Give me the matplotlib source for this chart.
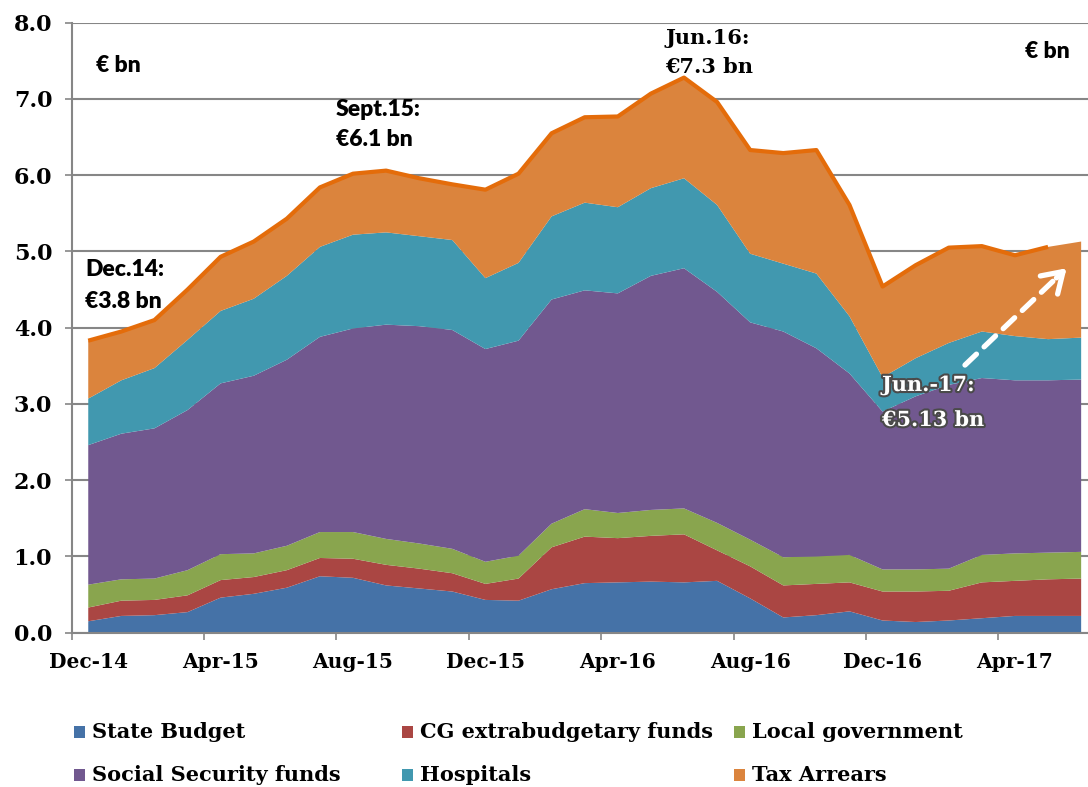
import numpy as np
import matplotlib.pyplot as plt
import matplotlib.patheffects as pe
from matplotlib.patches import Rectangle

# monthly government arrears, EUR bn
months = ['Dec-14', 'Jan-15', 'Feb-15', 'Mar-15', 'Apr-15', 'May-15', 'Jun-15', 'Jul-15',
          'Aug-15', 'Sep-15', 'Oct-15', 'Nov-15', 'Dec-15', 'Jan-16', 'Feb-16', 'Mar-16',
          'Apr-16', 'May-16', 'Jun-16', 'Jul-16', 'Aug-16', 'Sep-16', 'Oct-16', 'Nov-16',
          'Dec-16', 'Jan-17', 'Feb-17', 'Mar-17', 'Apr-17', 'May-17', 'Jun-17']

state_budget = [0.15, 0.22, 0.23, 0.27, 0.46, 0.51, 0.59, 0.74, 0.72, 0.62, 0.58, 0.54, 0.43, 0.42, 0.57, 0.65,
                0.66, 0.67, 0.66, 0.68, 0.45, 0.20, 0.23, 0.28, 0.16, 0.14, 0.16, 0.19, 0.22, 0.22, 0.22]
cg_funds = [0.18, 0.20, 0.20, 0.22, 0.23, 0.22, 0.23, 0.24, 0.25, 0.27, 0.26, 0.24, 0.21, 0.29, 0.55, 0.61,
            0.58, 0.60, 0.63, 0.40, 0.42, 0.42, 0.41, 0.38, 0.38, 0.40, 0.39, 0.47, 0.46, 0.48, 0.49]
local_gov = [0.30, 0.28, 0.28, 0.33, 0.34, 0.31, 0.32, 0.34, 0.35, 0.34, 0.33, 0.32, 0.29, 0.30, 0.31, 0.36,
             0.33, 0.34, 0.34, 0.36, 0.35, 0.37, 0.36, 0.36, 0.29, 0.29, 0.29, 0.36, 0.36, 0.35, 0.35]
social_security = [1.83, 1.91, 1.97, 2.10, 2.24, 2.33, 2.44, 2.56, 2.67, 2.81, 2.85, 2.87, 2.79, 2.82, 2.94, 2.87,
                   2.88, 3.07, 3.15, 3.03, 2.85, 2.96, 2.73, 2.38, 2.07, 2.27, 2.41, 2.32, 2.27, 2.26, 2.26]
hospitals = [0.61, 0.70, 0.79, 0.92, 0.95, 1.01, 1.10, 1.18, 1.23, 1.21, 1.18, 1.18, 0.93, 1.02, 1.09, 1.15,
             1.13, 1.15, 1.18, 1.14, 0.90, 0.89, 0.98, 0.75, 0.45, 0.50, 0.55, 0.61, 0.58, 0.54, 0.55]
tax_arrears = [0.76, 0.64, 0.63, 0.66, 0.71, 0.75, 0.75, 0.78, 0.80, 0.81, 0.76, 0.73, 1.16, 1.17, 1.09, 1.12,
               1.19, 1.24, 1.32, 1.35, 1.36, 1.45, 1.62, 1.46, 1.19, 1.22, 1.25, 1.12, 1.06, 1.21, 1.26]

series_names = ['State Budget', 'CG extrabudgetary funds', 'Local government',
                'Social Security funds', 'Hospitals', 'Tax Arrears']
colors = ['#4572A7', '#AA4643', '#89A54E', '#71588F', '#4198AF', '#DB843D']

W, H = 1088, 787
SERIF = 'DejaVu Serif'
SANS = ['Lato', 'DejaVu Sans']

fig = plt.figure(figsize=(W / 100, H / 100), dpi=100)
# plot area runs past the right edge of the picture, as in the original crop
ax = fig.add_axes([71.7 / W, 1 - 632.7 / H, 1026 / W, 610 / H])

x = np.arange(len(months))
stacks = np.vstack([state_budget, cg_funds, local_gov, social_security, hospitals, tax_arrears])
ax.stackplot(x, stacks, colors=colors, linewidth=0)

# total line (stops at May-17)
total = stacks.sum(axis=0)
ax.plot(x[:-1], total[:-1], color='#E46C0A', lw=3, solid_joinstyle='round',
        solid_capstyle='butt', zorder=5)

ax.set_xlim(-0.5, len(months) - 0.5)
ax.set_ylim(0, 8)

# labels sit on the months, tick marks between the categories
ax.set_xticks(x[::4])
ax.set_xticklabels([months[i] for i in x[::4]], fontfamily=SERIF, fontweight='bold', fontsize=14.5)
ax.tick_params(axis='x', which='major', length=0, pad=14)
ax.set_xticks(np.arange(-0.5, len(months), 4), minor=True)
ax.tick_params(axis='x', which='minor', length=5, width=1.2, color='#868686')

ax.set_yticks(np.arange(0, 9))
ax.set_yticklabels([f'{v:.1f}' for v in range(9)], fontfamily=SERIF, fontweight='bold', fontsize=16)
ax.tick_params(axis='y', length=5, width=1.2, color='#868686', pad=9)

ax.yaxis.grid(True, color='#868686', lw=1.5)
ax.set_axisbelow(True)
for side in ['top', 'right']:
    ax.spines[side].set_visible(False)
for side in ['left', 'bottom']:
    ax.spines[side].set_color('#868686')
    ax.spines[side].set_linewidth(1.5)


def fpos(px, py):
    return px / W, 1 - py / H


# annotations
fig.text(*fpos(96, 65), '€ bn', fontfamily=SANS, fontweight='heavy', fontsize=16.5, va='center')
fig.text(*fpos(1025, 51), '€ bn', fontfamily=SANS, fontweight='heavy', fontsize=16.5, va='center')
fig.text(*fpos(85, 270), 'Dec.14:', fontfamily=SANS, fontweight='heavy', fontsize=16.5, va='center')
fig.text(*fpos(85, 301), '€3.8 bn', fontfamily=SANS, fontweight='heavy', fontsize=16.5, va='center')
fig.text(*fpos(336, 109), 'Sept.15:', fontfamily=SANS, fontweight='heavy', fontsize=16.5, va='center')
fig.text(*fpos(336, 140), '€6.1 bn', fontfamily=SANS, fontweight='heavy', fontsize=16.5, va='center')
fig.text(*fpos(665, 38), 'Jun.16:', fontfamily=SERIF, fontweight='bold', fontsize=15, va='center')
fig.text(*fpos(665, 67), '€7.3 bn', fontfamily=SERIF, fontweight='bold', fontsize=15, va='center')

shadow = [pe.withStroke(linewidth=3, foreground='#4a4a4a')]
fig.text(*fpos(882, 385), 'Jun.-17:', fontfamily=SERIF, fontweight='bold', fontsize=15,
         va='center', color='white', path_effects=shadow, zorder=10)
fig.text(*fpos(882, 420), '€5.13 bn', fontfamily=SERIF, fontweight='bold', fontsize=15,
         va='center', color='white', path_effects=shadow, zorder=10)

# dashed white arrow
tail = (26.49, 3.51)
head = (29.56, 4.78)
mid = (tail[0] + 0.9 * (head[0] - tail[0]), tail[1] + 0.9 * (head[1] - tail[1]))
ax.annotate('', xy=mid, xytext=tail,
            arrowprops=dict(arrowstyle='-', color='white', lw=3.8, ls=(0, (3, 2)),
                            shrinkA=0, shrinkB=0), zorder=8)
ax.annotate('', xy=head, xytext=mid,
            arrowprops=dict(arrowstyle='->,head_length=0.7,head_width=0.45', color='white', lw=3.8,
                            shrinkA=0, shrinkB=0, mutation_scale=20), zorder=8)

# legend drawn by hand, three columns
col_x = [74, 402, 734]
row_y = [732, 775]
for k, (name, c) in enumerate(zip(series_names, colors)):
    cx = col_x[k % 3]
    cy = row_y[k // 3]
    fig.add_artist(Rectangle(fpos(cx, cy + 6), 11 / W, 12 / H, transform=fig.transFigure,
                             facecolor=c, edgecolor='none'))
    fig.text(*fpos(cx + 18, cy), name, fontfamily=SERIF, fontweight='bold', fontsize=15,
             va='center', ha='left')

fig.savefig('out.png', dpi=100)
